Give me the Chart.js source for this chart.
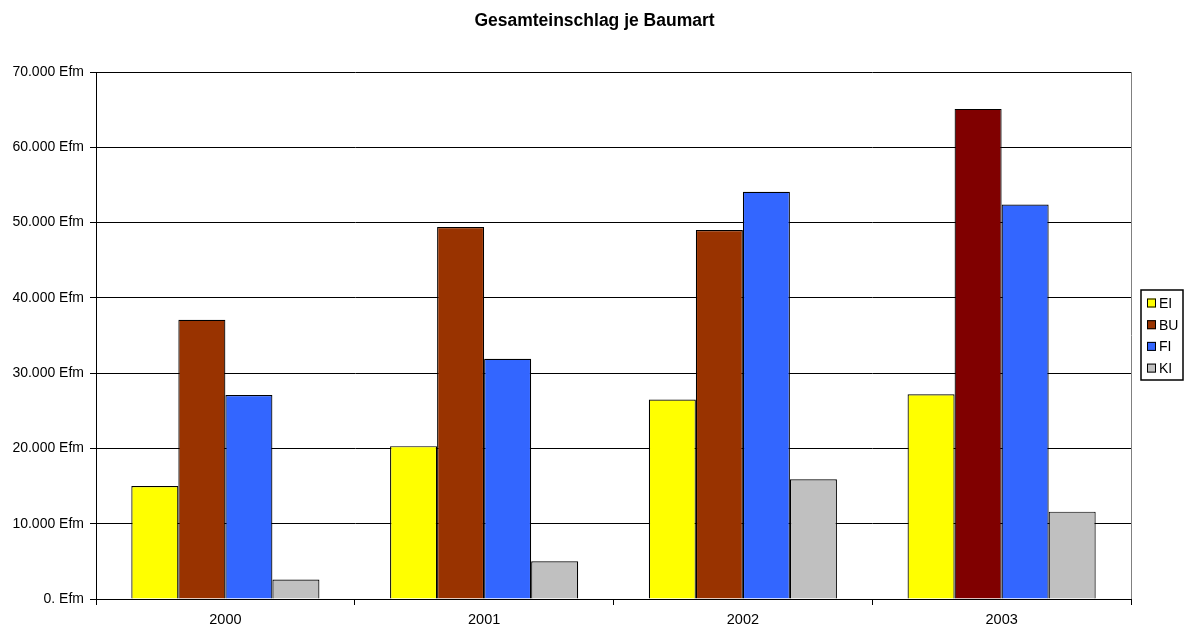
<!DOCTYPE html>
<html>
<head>
<meta charset="utf-8">
<title>Gesamteinschlag je Baumart</title>
<script src="https://cdn.jsdelivr.net/npm/chart.js@4.4.1/dist/chart.umd.min.js"></script>
<style>
	html, body { margin: 0; padding: 0; background: #fff; }
	#wrap { width: 1189px; height: 627px; }
</style>
</head>
<body>
<div id="wrap"><canvas id="chart_baumart"></canvas></div>
<script>
// Jahre
var years = ['2000', '2001', '2002', '2003'];

// Einschlag in Efm je Baumart
var ei = [15000, 20300, 26500, 27200];
var bu = [37100, 49400, 49000, 65100];
var fi = [27100, 31900, 54100, 52400];
var ki = [2600, 5000, 15900, 11600];

var series_labels = ['EI', 'BU', 'FI', 'KI'];
var series_colors = ['#FFFF00', '#993300', '#3366FF', '#C0C0C0'];
// BU 2003 ist dunkler eingefärbt
var bu_colors = ['#993300', '#993300', '#993300', '#800000'];

var font_family = '"Liberation Sans", Arial, sans-serif';

// Zahlen im Format 10.000 Efm
function format_efm(value)
{
	if(value === 0)
	{
		return '0. Efm';
	}
	var s = String(Math.round(value));
	return s.replace(/\B(?=(\d{3})+(?!\d))/g, '.') + ' Efm';
}

// Rahmen rechts am Diagramm + Legende mit Kasten
var frame_legend = {
	id: 'frame_legend',
	afterDraw: function(chart)
	{
		var ctx = chart.ctx;
		var area = chart.chartArea;

		ctx.save();
		ctx.strokeStyle = '#808080';
		ctx.lineWidth = 1;
		ctx.beginPath();
		ctx.moveTo(Math.round(area.right) + 0.5, area.top);
		ctx.lineTo(Math.round(area.right) + 0.5, area.bottom);
		ctx.stroke();

		var x = 1141, y = 290, w = 42, h = 90;
		ctx.strokeStyle = '#000';
		ctx.lineWidth = 1.5;
		ctx.strokeRect(x, y, w, h);

		ctx.font = '14px ' + font_family;
		ctx.textBaseline = 'middle';
		chart.data.datasets.forEach(function(ds, i){
			var cy = 303 + i * 21.7;
			ctx.fillStyle = series_colors[i];
			ctx.fillRect(x + 6, cy - 4.5, 9, 9);
			ctx.strokeStyle = '#000';
			ctx.lineWidth = 1;
			ctx.strokeRect(x + 6.5, cy - 4, 8, 8);
			ctx.fillStyle = '#000';
			ctx.fillText(ds.label, x + 18, cy + 1);
		});
		ctx.restore();
	}
};

function make_dataset(i, values, colors)
{
	return {
		label: series_labels[i],
		data: values,
		backgroundColor: colors || series_colors[i],
		borderColor: '#000',
		borderWidth: 1.2,
		categoryPercentage: 0.727,
		barPercentage: 1.0
	};
}

Chart.defaults.font.family = font_family;
Chart.defaults.color = '#000';

new Chart(document.getElementById('chart_baumart'), {
	type: 'bar',
	data: {
		labels: years,
		datasets: [
			make_dataset(0, ei),
			make_dataset(1, bu, bu_colors),
			make_dataset(2, fi),
			make_dataset(3, ki)
		]
	},
	options: {
		responsive: true,
		maintainAspectRatio: false,
		animation: false,
		layout: { padding: 0 },
		plugins: {
			legend: { display: false },
			tooltip: { enabled: false },
			title: {
				display: true,
				text: 'Gesamteinschlag je Baumart',
				color: '#000',
				font: { size: 17.5, weight: 'bold' },
				padding: { top: 11, bottom: 40 }
			}
		},
		scales: {
			x: {
				grid: {
					offset: true,
					drawOnChartArea: false,
					color: '#000',
					tickLength: 6
				},
				border: { color: '#000', width: 1 },
				ticks: { font: { size: 14.5 }, padding: 6, color: '#000' },
				afterFit: function(scale){ scale.height = 28; }
			},
			y: {
				min: 0,
				max: 70000,
				ticks: {
					stepSize: 10000,
					font: { size: 14 },
					padding: 6,
					color: '#000',
					callback: function(value){ return format_efm(value); }
				},
				grid: { color: '#000', tickLength: 6 },
				border: { color: '#000', width: 1 },
				afterFit: function(scale){ scale.width = 96; }
			},
			// Platz für die Legende rechts
			legend_space: {
				type: 'linear',
				position: 'right',
				display: true,
				grid: { display: false },
				ticks: { display: false },
				border: { display: false },
				afterFit: function(scale){ scale.width = 58; }
			}
		}
	},
	plugins: [frame_legend]
});
</script>
</body>
</html>
